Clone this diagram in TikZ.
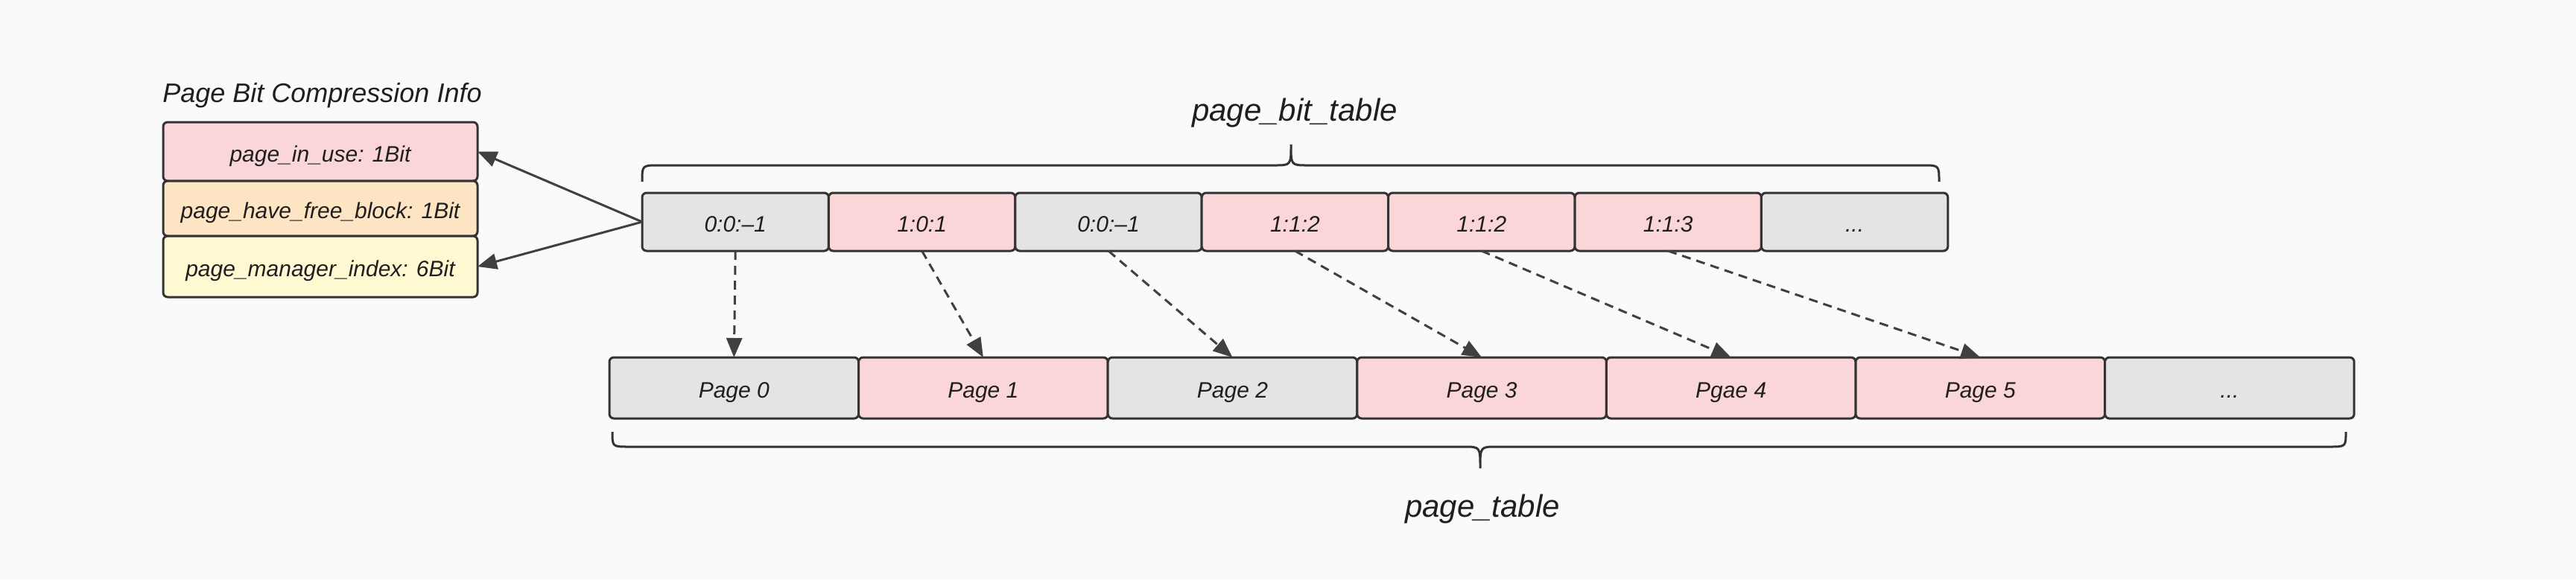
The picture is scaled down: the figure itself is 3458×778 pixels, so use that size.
\documentclass[tikz,border=0pt]{standalone}
\usepackage{fontspec}
\setmainfont{Liberation Sans}
\usetikzlibrary{arrows.meta}
\definecolor{bgc}{HTML}{FAFAFA}
\definecolor{graybox}{HTML}{E4E4E4}
\definecolor{pinkbox}{HTML}{FAD6D9}
\definecolor{orangebox}{HTML}{FDE5C4}
\definecolor{yellowbox}{HTML}{FFF9D2}
\definecolor{strokec}{HTML}{333333}
\definecolor{arrowc}{HTML}{404040}
\definecolor{textc}{HTML}{1F1F1F}
\newcommand\mythreedots{...}
\tikzset{
  cell/.style={draw=strokec, line width=1.5pt, rounded corners=3pt, inner sep=0pt, outer sep=0pt,
    text=textc, font=\fontsize{15pt}{18pt}\selectfont\itshape, text height=14.5pt, text depth=1pt},
  bitcell/.style={cell, minimum width=125.2pt, minimum height=39pt},
  pagecell/.style={cell, minimum width=167.3pt, minimum height=41pt},
  infocell/.style={cell, minimum width=211pt},
  lbl/.style={text=textc, inner sep=0pt, anchor=base},
  solidarrow/.style={draw=arrowc, line width=1.5pt, -{Triangle[length=13pt,width=10.5pt]}},
  dasharrow/.style={draw=arrowc, line width=1.5pt, dash pattern=on 6pt off 4pt, -{Triangle[length=13pt,width=10.5pt]}},
  bracec/.style={draw=strokec, line width=1.5pt}
}
\begin{document}
\begin{tikzpicture}[x=0.5pt, y=-0.5pt]
\useasboundingbox (0,0) rectangle (3458,778);
\fill[bgc] (0,0) rectangle (3458,778);

% info boxes
\node[lbl, anchor=base west, font=\fontsize{18pt}{21pt}\selectfont\itshape] (title) at (218,137) {Page Bit Compression Info};
\node[infocell, fill=pinkbox, minimum height=39.5pt] (i1) at (430,203.5) {page\_in\_use: 1Bit};
\node[infocell, fill=orangebox, minimum height=37pt] (i2) at (430,280) {page\_have\_free\_block: 1Bit};
\node[infocell, fill=yellowbox, minimum height=41pt] (i3) at (430,358) {page\_manager\_index: 6Bit};

% bit table
\foreach \i/\t/\c in {0/0:0:–1/graybox, 1/1:0:1/pinkbox, 2/0:0:–1/graybox, 3/1:1:2/pinkbox, 4/1:1:2/pinkbox, 5/1:1:3/pinkbox, 6/\mythreedots/graybox}{
  \node[bitcell, fill=\c] (b\i) at ({862+125.2+250.4*\i},298) {\t};
}

% page table
\foreach \i/\t/\c in {0/Page 0/graybox, 1/Page 1/pinkbox, 2/Page 2/graybox, 3/Page 3/pinkbox, 4/Pgae 4/pinkbox, 5/Page 5/pinkbox, 6/\mythreedots/graybox}{
  \node[pagecell, fill=\c] (p\i) at ({818+167.3+334.6*\i},521) {\t};
}

% labels
\node[lbl, font=\fontsize{21pt}{25pt}\selectfont\itshape] (lblbit) at (1738,162) {page\_bit\_table};
\node[lbl, font=\fontsize{21pt}{25pt}\selectfont\itshape] (lblpage) at (1990,694) {page\_table};

% braces
\draw[bracec] (862,244) .. controls (862,222) .. (884,222) -- (1711,222)
  .. controls (1733,222) .. (1733,194) .. controls (1733,222) .. (1755,222)
  -- (2581,222) .. controls (2603,222) .. (2603,244);
\draw[bracec] (822,580) .. controls (822,600) .. (844,600) -- (1965,600)
  .. controls (1987,600) .. (1987,629) .. controls (1987,600) .. (2009,600)
  -- (3127,600) .. controls (3149,600) .. (3149,580);

% solid arrows
\draw[solidarrow] (b0.west) -- (i1.east);
\draw[solidarrow] (b0.west) -- (i3.east);

% dashed arrows
\foreach \i in {0,...,5}{
  \draw[dasharrow] (b\i.south) -- (p\i.north);
}
\end{tikzpicture}
\end{document}
